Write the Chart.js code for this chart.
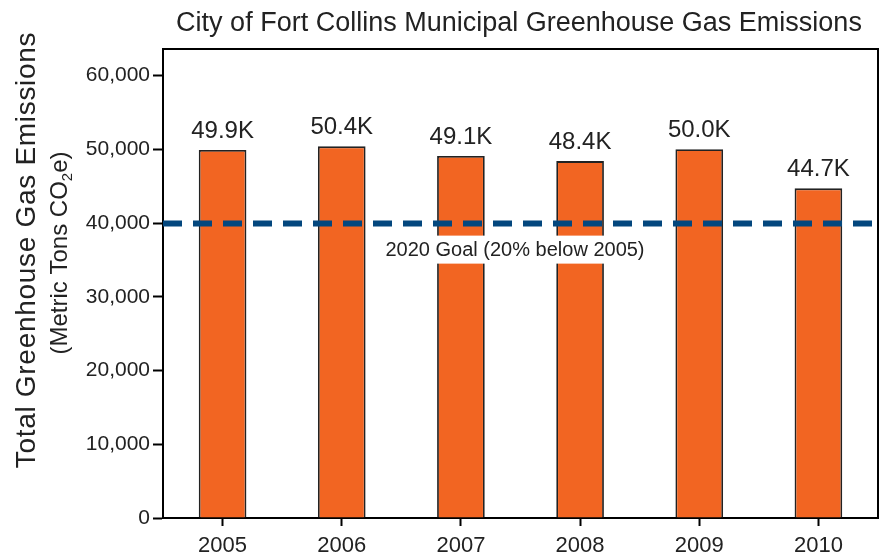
<!DOCTYPE html>
<html>
<head>
<meta charset="utf-8">
<script src="https://cdn.jsdelivr.net/npm/chart.js@4.4.1/dist/chart.umd.min.js"></script>
<style>
  html, body { margin: 0; padding: 0; background: #fff; }
  #wrap { width: 881px; height: 556px; }
</style>
</head>
<body>
<div id="wrap"><canvas id="myChart" width="881" height="556"></canvas></div>
<script>
var years = ["2005", "2006", "2007", "2008", "2009", "2010"];
var emissions = [49900, 50400, 49100, 48400, 50000, 44700];
var yTicks = [0, 10000, 20000, 30000, 40000, 50000, 60000];
var goalValue = 39920; // 20% below 2005
var goalLabel = "2020 Goal (20% below 2005)";
var chartTitle = "City of Fort Collins Municipal Greenhouse Gas Emissions";

var FONT = "'Liberation Sans', Arial, sans-serif";
var TEXT = "#222";

// frame, title, axis title, goal line, bar labels
var decorations = {
    id: "decorations",
    afterDatasetsDraw: function (chart) {
        var ctx = chart.ctx;
        var area = chart.chartArea;
        var y = chart.scales.y;
        var meta = chart.getDatasetMeta(0);

        ctx.save();

        // box around the plot
        ctx.strokeStyle = "#000";
        ctx.lineWidth = 2;
        ctx.beginPath();
        ctx.moveTo(area.left, area.top);
        ctx.lineTo(area.right, area.top);
        ctx.lineTo(area.right, area.bottom);
        ctx.stroke();

        // goal label with white box
        var gy = y.getPixelForValue(goalValue);
        ctx.font = "20px " + FONT;
        ctx.textAlign = "center";
        ctx.textBaseline = "alphabetic";
        var lw = ctx.measureText(goalLabel).width;
        var cx = 515;
        ctx.fillStyle = "#fff";
        ctx.fillRect(cx - lw / 2 - 4, gy + 12, lw + 8, 28);
        ctx.fillStyle = TEXT;
        ctx.fillText(goalLabel, cx, gy + 32);

        // dashed goal line
        ctx.strokeStyle = "#03477e";
        ctx.lineWidth = 6;
        ctx.setLineDash([19, 11]);
        ctx.beginPath();
        ctx.moveTo(area.left, gy);
        ctx.lineTo(chart.width, gy);
        ctx.stroke();
        ctx.setLineDash([]);

        // value labels above bars
        ctx.font = "24px " + FONT;
        ctx.fillStyle = TEXT;
        meta.data.forEach(function (bar, i) {
            var txt = (emissions[i] / 1000).toFixed(1) + "K";
            ctx.fillText(txt, bar.x, bar.y - 12);
        });

        // title
        ctx.font = "27px " + FONT;
        ctx.fillText(chartTitle, 519, 31);

        // y axis title, two lines rotated
        ctx.translate(35, 250);
        ctx.rotate(-Math.PI / 2);
        ctx.font = "28px " + FONT;
        ctx.letterSpacing = "0.7px";
        ctx.textAlign = "center";
        ctx.fillText("Total Greenhouse Gas Emissions", 0, 0);
        ctx.letterSpacing = "0px";

        // second line with subscript 2
        var p1 = "(Metric Tons CO", p2 = "2", p3 = "e)";
        ctx.textAlign = "left";
        ctx.font = "24px " + FONT;
        var w1 = ctx.measureText(p1).width;
        var w3 = ctx.measureText(p3).width;
        ctx.font = "15px " + FONT;
        var w2 = ctx.measureText(p2).width;
        var start = -3 - (w1 + w2 + w3) / 2;
        ctx.font = "24px " + FONT;
        ctx.fillText(p1, start, 32);
        ctx.font = "15px " + FONT;
        ctx.fillText(p2, start + w1, 37);
        ctx.font = "24px " + FONT;
        ctx.fillText(p3, start + w1 + w2, 32);

        ctx.restore();
    }
};

var ctx = document.getElementById("myChart").getContext("2d");

var data = {
    labels: years,
    datasets: [
        {
            label: "Emissions",
            data: emissions,
            backgroundColor: "#f26522",
            borderColor: "#222",
            borderWidth: 1.8,
            barPercentage: 0.4,
            categoryPercentage: 1
        }
    ]
};

var myBarChart = new Chart(ctx, {
    type: "bar",
    data: data,
    plugins: [decorations],
    options: {
        responsive: false,
        animation: false,
        layout: {
            padding: { top: 49, right: 3, left: 0, bottom: 0 }
        },
        plugins: {
            legend: { display: false },
            title: { display: false },
            tooltip: { enabled: false }
        },
        scales: {
            x: {
                afterFit: function (scale) { scale.height = 38; },
                grid: {
                    offset: false,
                    drawOnChartArea: false,
                    drawTicks: true,
                    tickLength: 8,
                    tickWidth: 2,
                    tickColor: "#000"
                },
                border: { display: true, color: "#000", width: 2 },
                ticks: {
                    color: TEXT,
                    padding: 7,
                    font: { family: FONT, size: 22 }
                }
            },
            y: {
                min: 0,
                max: 63600,
                afterFit: function (scale) { scale.width = 163; },
                afterBuildTicks: function (scale) {
                    scale.ticks = yTicks.map(function (v) { return { value: v }; });
                },
                grid: {
                    drawOnChartArea: false,
                    drawTicks: true,
                    tickLength: 10,
                    tickWidth: 2,
                    tickColor: "#000"
                },
                border: { display: true, color: "#000", width: 2 },
                ticks: {
                    color: TEXT,
                    padding: 3,
                    font: { family: FONT, size: 21 },
                    callback: function (v) { return v.toLocaleString("en-US"); }
                }
            }
        }
    }
});
</script>
</body>
</html>
